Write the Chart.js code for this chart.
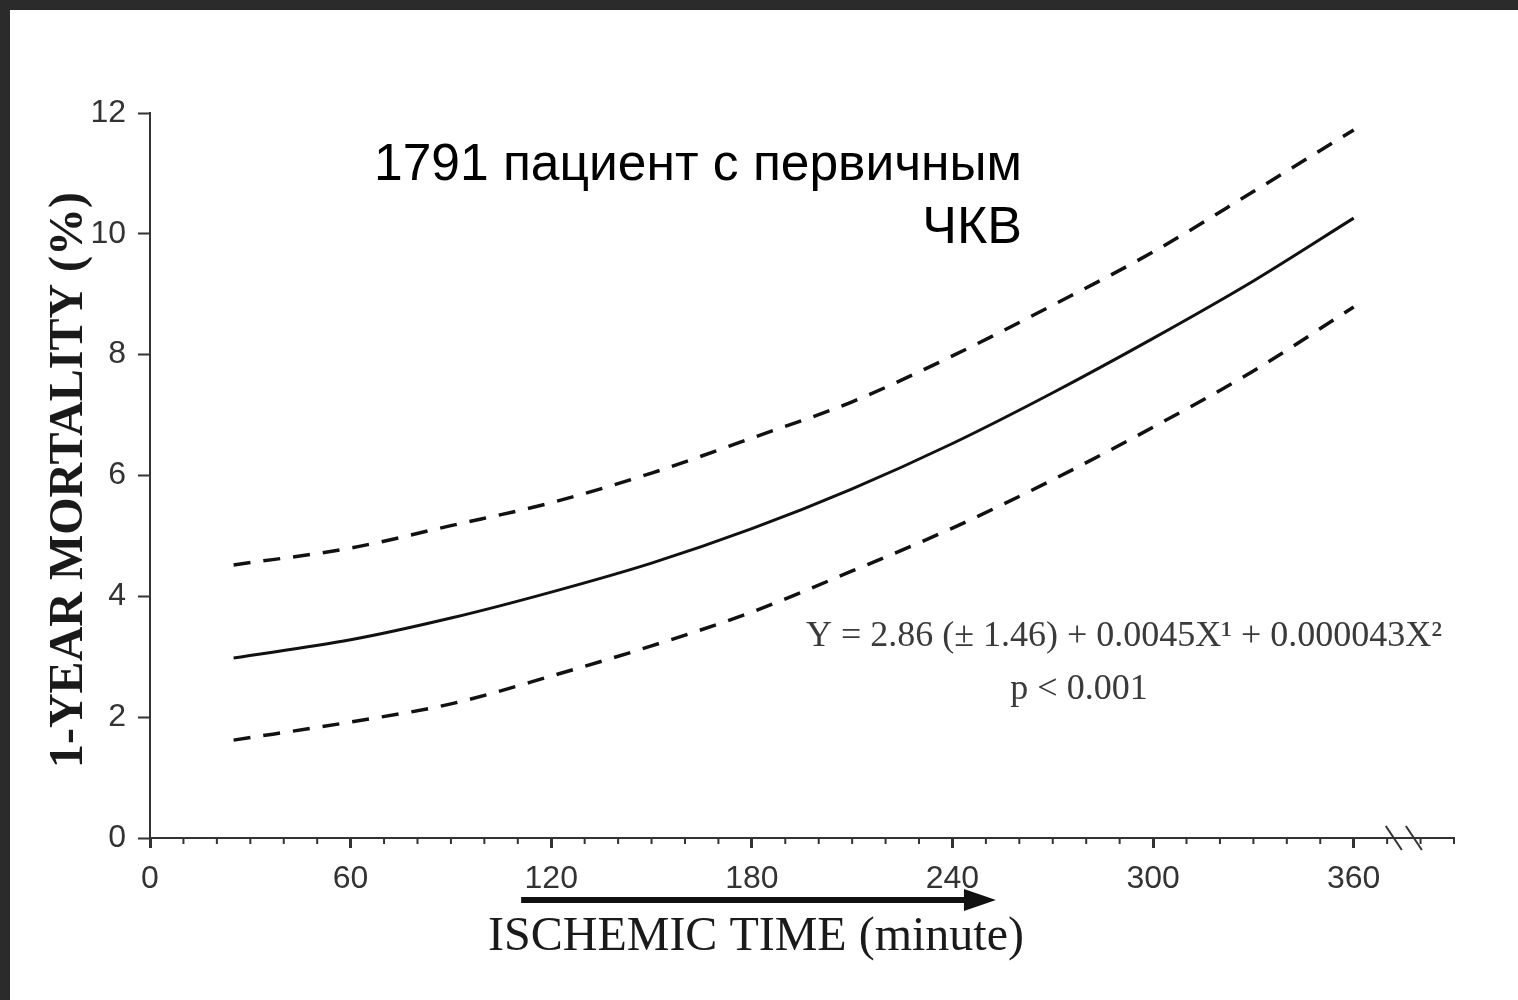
<!DOCTYPE html>
<html>
<head>
<meta charset="utf-8">
<title>1-year mortality vs ischemic time</title>
<script src="https://cdn.jsdelivr.net/npm/chart.js@4"></script>
<style>
  html, body { margin: 0; padding: 0; background: #2b2b2b; overflow: hidden; }
  #wrap { position: absolute; left: 10px; top: 10px; width: 1508px; height: 990px; background: #fff; }
  canvas { display: block; }
</style>
</head>
<body>
<div id="wrap"><canvas id="chart" width="1508" height="990"></canvas></div>
<script>
// values
const minutes   = [25, 60, 90, 120, 150, 180, 210, 240, 270, 300, 330, 360];
const mortality = [2.98, 3.28, 3.64, 4.07, 4.55, 5.12, 5.78, 6.53, 7.37, 8.27, 9.22, 10.26];
const upperCI   = [4.52, 4.80, 5.17, 5.55, 6.04, 6.62, 7.22, 7.98, 8.82, 9.70, 10.70, 11.72];
const lowerCI   = [1.62, 1.92, 2.22, 2.68, 3.18, 3.74, 4.42, 5.13, 5.93, 6.80, 7.73, 8.79];

const xTicks = [0, 60, 120, 180, 240, 300, 360];
const xMinorStep = 10;
const xMax = 390;
const yMax = 12;
const yStep = 2;

const titleLines = ['1791 пациент с первичным', 'ЧКВ'];
const xTitle = 'ISCHEMIC TIME (minute)';
const yTitle = '1-YEAR MORTALITY (%)';
const equation = 'Y = 2.86 (± 1.46) + 0.0045X¹ + 0.000043X²';
const pValue = 'p < 0.001';

const ink = '#111';
const axisInk = '#333';

function points(ys) {
  return minutes.map((m, i) => ({ x: m, y: ys[i] }));
}

const extras = {
  id: 'extras',
  afterDraw(chart) {
    const { ctx, chartArea: area } = chart;
    const xs = chart.scales.x;
    ctx.save();

    // minor ticks on the time axis
    ctx.strokeStyle = axisInk;
    ctx.lineWidth = 2;
    for (let v = xMinorStep; v < xMax; v += xMinorStep) {
      if (xTicks.includes(v)) continue;
      const px = xs.getPixelForValue(v);
      ctx.beginPath();
      ctx.moveTo(px, area.bottom);
      ctx.lineTo(px, area.bottom + 6);
      ctx.stroke();
    }
    // end hook
    ctx.beginPath();
    ctx.moveTo(area.right, area.bottom);
    ctx.lineTo(area.right, area.bottom + 6);
    ctx.stroke();

    // axis break marks
    [372, 378].forEach(v => {
      const px = xs.getPixelForValue(v);
      ctx.beginPath();
      ctx.moveTo(px - 8, area.bottom - 12);
      ctx.lineTo(px + 8, area.bottom + 12);
      ctx.stroke();
    });

    // arrow under the time axis
    const ax0 = xs.getPixelForValue(111);
    const ax1 = xs.getPixelForValue(253);
    const ay = area.bottom + 62;
    ctx.fillStyle = ink;
    ctx.strokeStyle = ink;
    ctx.lineWidth = 6;
    ctx.beginPath();
    ctx.moveTo(ax0, ay);
    ctx.lineTo(ax1 - 26, ay);
    ctx.stroke();
    ctx.beginPath();
    ctx.moveTo(ax1, ay);
    ctx.lineTo(ax1 - 32, ay - 11);
    ctx.lineTo(ax1 - 32, ay + 11);
    ctx.closePath();
    ctx.fill();

    // axis titles
    ctx.fillStyle = '#1a1a1a';
    ctx.textAlign = 'center';
    ctx.textBaseline = 'middle';
    ctx.font = '48px "Liberation Serif", "Times New Roman", serif';
    ctx.fillText(xTitle, 746, 927, 538);

    ctx.save();
    ctx.translate(60, 470);
    ctx.rotate(-Math.PI / 2);
    ctx.font = 'bold 48px "Liberation Serif", "Times New Roman", serif';
    ctx.fillText(yTitle, 0, 0, 585);
    ctx.restore();

    // regression equation
    ctx.fillStyle = '#3a3a3a';
    ctx.font = '36px "Liberation Serif", "Times New Roman", serif';
    ctx.fillText(equation, 1114, 627, 648);
    ctx.fillText(pValue, 1069, 680);

    // title text
    ctx.fillStyle = '#000';
    ctx.textAlign = 'right';
    ctx.textBaseline = 'alphabetic';
    ctx.font = '52px "Liberation Sans", Arial, sans-serif';
    ctx.fillText(titleLines[0], 1012, 170, 648);
    ctx.fillText(titleLines[1], 1012, 233);

    ctx.restore();
  }
};

const ctx = document.getElementById('chart').getContext('2d');
const chart = new Chart(ctx, {
  type: 'line',
  data: {
    datasets: [
      { label: 'upper', data: points(upperCI), borderColor: ink, borderWidth: 3.5, borderDash: [17, 13], pointRadius: 0, fill: false, cubicInterpolationMode: 'monotone' },
      { label: 'mortality', data: points(mortality), borderColor: ink, borderWidth: 3, pointRadius: 0, fill: false, cubicInterpolationMode: 'monotone' },
      { label: 'lower', data: points(lowerCI), borderColor: ink, borderWidth: 3.5, borderDash: [17, 13], pointRadius: 0, fill: false, cubicInterpolationMode: 'monotone' }
    ]
  },
  options: {
    responsive: false,
    animation: false,
    layout: { padding: { top: 103, right: 64, left: 0, bottom: 0 } },
    plugins: { legend: { display: false }, tooltip: { enabled: false } },
    scales: {
      x: {
        type: 'linear',
        min: 0,
        max: xMax,
        afterBuildTicks: (scale) => { scale.ticks = xTicks.map(v => ({ value: v })); },
        afterFit: (scale) => { scale.height = 162; },
        grid: { drawOnChartArea: false, drawTicks: true, tickLength: 10, tickWidth: 3, tickColor: axisInk },
        border: { display: true, color: axisInk, width: 2 },
        ticks: { color: '#333', padding: 12, font: { family: '"Liberation Sans", Arial, sans-serif', size: 32 }, maxRotation: 0 }
      },
      y: {
        min: 0,
        max: yMax,
        ticks: { stepSize: yStep, color: '#333', padding: 12, font: { family: '"Liberation Sans", Arial, sans-serif', size: 32 } },
        afterFit: (scale) => { scale.width = 140; },
        grid: { drawOnChartArea: false, drawTicks: true, tickLength: 12, tickWidth: 2, tickColor: axisInk },
        border: { display: true, color: axisInk, width: 2 }
      }
    }
  },
  plugins: [extras]
});
</script>
</body>
</html>
